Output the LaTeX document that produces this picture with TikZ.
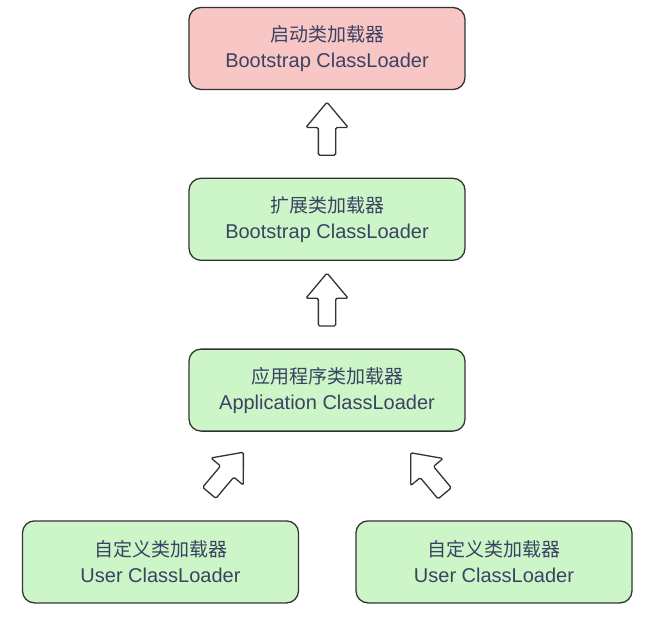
\documentclass[tikz,border=0pt]{standalone}
\usepackage{fontspec}
\setmainfont{Liberation Sans}
\newfontfamily\cjk{Noto Sans CJK SC}
\usetikzlibrary{positioning,shapes.arrows,calc}
\definecolor{txtc}{HTML}{3B4262}
\definecolor{pinkfill}{HTML}{F7C6C5}
\definecolor{greenfill}{HTML}{CCF6C8}
\definecolor{edgec}{HTML}{333333}
\newcommand{\zh}[1]{{\cjk\fontsize{19}{26}\selectfont #1}}
\tikzset{
  box/.style  ={draw=edgec, line width=1.3pt, rounded corners=12pt,
                minimum width=276pt, minimum height=82pt, align=center,
                text=txtc, font=\fontsize{20}{26}\selectfont},
  bootbox/.style={box, fill=pinkfill},
  ldbox/.style  ={box, fill=greenfill},
  uparr/.style  ={single arrow, draw=edgec, fill=white, line width=1.3pt,
                  minimum height=53pt, inner sep=8pt, rounded corners=1.5pt,
                  single arrow head extend=12.5pt, single arrow tip angle=80}
}

\begin{document}
\begin{tikzpicture}[x=1pt,y=1pt]
  \useasboundingbox (0,0) rectangle (653,630);

  \node[bootbox] (bsl) at (327,581.5) {\zh{启动类加载器}\\Bootstrap ClassLoader};
  \node[ldbox, below=87.5pt of bsl] (ext) {\zh{扩展类加载器}\\Bootstrap ClassLoader};
  \node[ldbox, below=87.5pt of ext] (app) {\zh{应用程序类加载器}\\Application ClassLoader};
  \node[ldbox, below=88.5pt of app, xshift=-166.5pt] (usr1) {\zh{自定义类加载器}\\User ClassLoader};
  \node[ldbox, below=88.5pt of app, xshift=167pt] (usr2) {\zh{自定义类加载器}\\User ClassLoader};

  % hollow arrows: child -> parent
  \node[uparr, rotate=90] (a1) at ($(bsl.south)!0.5!(ext.north)$) {};
  \node[uparr, rotate=90] (a2) at ($(ext.south)!0.5!(app.north)$) {};
  \node[uparr, rotate=50] (a3) at (223,153.5) {};
  \node[uparr, rotate=130] (a4) at (431,153) {};
\end{tikzpicture}
\end{document}
